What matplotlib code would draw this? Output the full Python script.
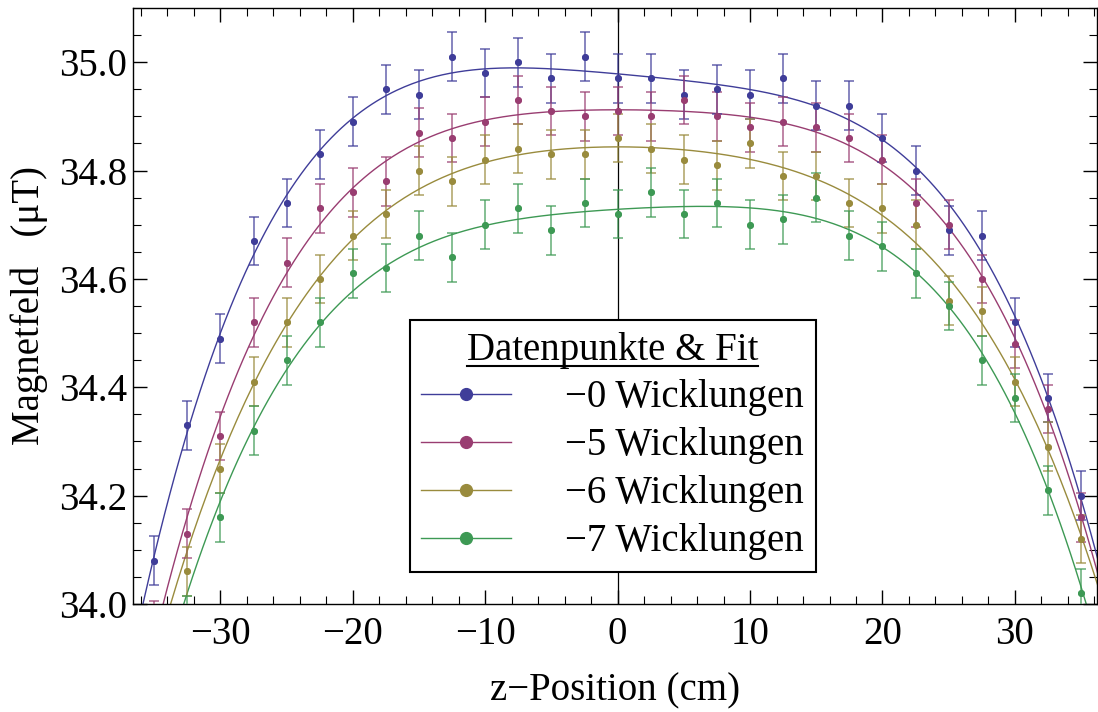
import numpy as np
import matplotlib.pyplot as plt
from matplotlib.lines import Line2D
from matplotlib.ticker import MultipleLocator, FormatStrFormatter

plt.rcParams['font.family'] = ['Liberation Serif', 'DejaVu Serif']
plt.rcParams['axes.unicode_minus'] = True

# z positions of the probe (cm)
z_pos = [-35, -32.5, -30, -27.5, -25, -22.5, -20, -17.5, -15, -12.5, -10, -7.5, -5, -2.5,
         0, 2.5, 5, 7.5, 10, 12.5, 15, 17.5, 20, 22.5, 25, 27.5, 30, 32.5, 35]

# measured field (uT) for each number of removed windings
b_0 = [34.08, 34.33, 34.49, 34.67, 34.74, 34.83, 34.89, 34.95, 34.94, 35.01, 34.98, 35.00, 34.97, 35.01,
       34.97, 34.97, 34.94, 34.95, 34.94, 34.97, 34.92, 34.92, 34.86, 34.80, 34.69, 34.68, 34.52, 34.38, 34.20]
b_5 = [33.96, 34.13, 34.31, 34.52, 34.63, 34.73, 34.76, 34.78, 34.87, 34.86, 34.89, 34.93, 34.91, 34.90,
       34.91, 34.90, 34.93, 34.90, 34.88, 34.89, 34.88, 34.86, 34.82, 34.74, 34.70, 34.60, 34.48, 34.36, 34.16]
b_6 = [33.93, 34.06, 34.25, 34.41, 34.52, 34.60, 34.68, 34.72, 34.80, 34.78, 34.82, 34.84, 34.83, 34.83,
       34.86, 34.84, 34.82, 34.81, 34.85, 34.79, 34.79, 34.74, 34.73, 34.70, 34.56, 34.54, 34.41, 34.29, 34.12]
b_7 = [33.86, 33.97, 34.16, 34.32, 34.45, 34.52, 34.61, 34.62, 34.68, 34.64, 34.70, 34.73, 34.69, 34.74,
       34.72, 34.76, 34.72, 34.74, 34.70, 34.71, 34.75, 34.68, 34.66, 34.61, 34.55, 34.45, 34.38, 34.21, 34.02]
b_err = 0.045

labels = ['\u22120 Wicklungen', '\u22125 Wicklungen', '\u22126 Wicklungen', '\u22127 Wicklungen']
colors = ['#3f3d99', '#993d71', '#998b3d', '#3d9954']
series = [b_0, b_5, b_6, b_7]

fs = 28

fig = plt.figure(figsize=(10.98, 7.12), dpi=100)
ax = fig.add_axes([133 / 1098, 108 / 712, 964 / 1098, 596 / 712])

ax.axvline(0, color='black', lw=0.9, zorder=1)

z = np.array(z_pos)
zz = np.linspace(-38, 38, 400)
handles = []
for vals, col, lab in zip(series, colors, labels):
    vals = np.array(vals)
    coef = np.polyfit(z, vals, 4)  # fit curve
    ax.plot(zz, np.polyval(coef, zz), color=col, lw=1.0, zorder=2)
    ax.errorbar(z, vals, yerr=b_err, fmt='o', color=col, ms=4.0, elinewidth=1.1,
                capsize=3.5, capthick=1.1, alpha=0.8, zorder=3)
    ax.plot(z, vals, 'o', color=col, ms=4.0, zorder=4)
    handles.append(Line2D([0], [0], color=col, lw=1.0, marker='o', ms=8.5,
                          markerfacecolor=col, markeredgecolor=col, label=lab))

ax.set_xlim(-36.6, 36.2)
ax.set_ylim(34.0, 35.1)
ax.xaxis.set_major_locator(MultipleLocator(10))
ax.xaxis.set_minor_locator(MultipleLocator(2))
ax.yaxis.set_major_locator(MultipleLocator(0.2))
ax.yaxis.set_minor_locator(MultipleLocator(0.05))
ax.yaxis.set_major_formatter(FormatStrFormatter('%.1f'))
ax.tick_params(which='both', direction='in', top=True, right=True, labelsize=fs)
ax.tick_params(which='major', length=10, width=1.0)
ax.tick_params(which='minor', length=6, width=0.8)
ax.tick_params(axis='x', pad=8.5)
ax.tick_params(axis='y', pad=4.5)
for sp in ax.spines.values():
    sp.set_linewidth(1.0)

ax.set_xlabel('z\u2212Position (cm)', fontsize=fs, labelpad=14)
ax.set_ylabel('Magnetfeld   (\u03bcT)', fontsize=fs, labelpad=8)

leg = ax.legend(handles=handles, title='Datenpunkte & Fit', loc='lower left',
                bbox_to_anchor=(0.287, 0.054), borderaxespad=0, fontsize=fs,
                title_fontsize=fs, frameon=True, fancybox=False, edgecolor='black',
                framealpha=1, borderpad=0.3, handlelength=2.3, handletextpad=1.4,
                labelspacing=0.28)
leg.get_frame().set_linewidth(1.5)
for h in leg.legend_handles:
    h.set_alpha(1)

# underline the legend title
fig.canvas.draw()
bb = leg.get_title().get_window_extent().transformed(fig.transFigure.inverted())
fig.add_artist(Line2D([bb.x0, bb.x1], [bb.y0 + 0.003, bb.y0 + 0.003], color='black', lw=1.5,
                      transform=fig.transFigure))

fig.savefig('out.png', dpi=100)
